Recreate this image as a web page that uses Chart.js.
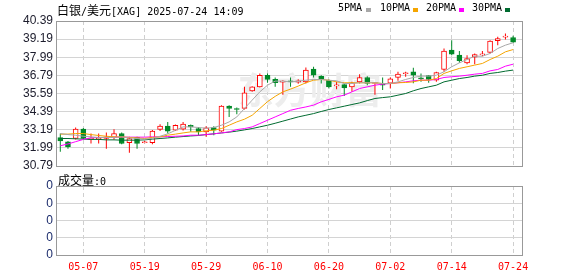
<!DOCTYPE html>
<html>
<head>
<meta charset="utf-8">
<script src="https://cdn.jsdelivr.net/npm/chart.js@4.4.0/dist/chart.umd.min.js"></script>
<style>
body{margin:0;background:#fff;width:578px;height:276px;position:relative;overflow:hidden}
canvas{position:absolute;left:0}
#main{top:0}
#vol{top:170px}
.txt{position:absolute;white-space:nowrap;color:#000;font:10px "DejaVu Sans Mono",monospace;line-height:14px}
.cjk{font:12px "Noto Sans CJK SC",sans-serif}
.sq{position:absolute;width:5px;height:4px}
</style>
</head>
<body>
<canvas id="main" width="578" height="180"></canvas>
<canvas id="vol" width="578" height="106"></canvas>
<div class="txt" style="left:57px;top:1px"><span class="cjk">白银</span>/<span class="cjk">美元</span>[XAG] 2025-07-24 14:09</div>
<div class="txt" style="left:338px;top:1px">5PMA</div><div class="sq" style="left:366px;top:8px;background:#a8a8a8"></div>
<div class="txt" style="left:380px;top:1px">10PMA</div><div class="sq" style="left:413px;top:8px;background:#f5a500"></div>
<div class="txt" style="left:426px;top:1px">20PMA</div><div class="sq" style="left:459px;top:8px;background:#ff00ff"></div>
<div class="txt" style="left:472px;top:1px">30PMA</div><div class="sq" style="left:505px;top:8px;background:#006b30"></div>
<div class="txt" style="left:58px;top:171px"><span class="cjk">成交量</span>:0</div>
<script>
// trading days shown
const dates = ['05-02','05-05','05-06','05-07','05-08','05-09','05-12','05-13','05-14','05-15','05-16',
  '05-19','05-20','05-21','05-22','05-23','05-26','05-27','05-28','05-29','05-30',
  '06-02','06-03','06-04','06-05','06-06','06-09','06-10','06-11','06-12','06-13',
  '06-16','06-17','06-18','06-19','06-20','06-23','06-24','06-25','06-26','06-27',
  '06-30','07-01','07-02','07-03','07-04','07-07','07-08','07-09','07-10','07-11',
  '07-14','07-15','07-16','07-17','07-18','07-21','07-22','07-23','07-24'];
const dateTicks = ['05-07','05-19','05-29','06-10','06-20','07-02','07-14','07-24'];
const priceTicks = [30.79,31.99,33.19,34.39,35.59,36.79,37.99,39.19,40.39];
const volTicks = [0,1,2,3,4];
const volTickLabels = ['0','0','0','0','0'];

const open = [32.67,32.39,32.61,33.23,32.55,32.60,32.61,32.68,32.94,32.33,32.68,32.33,32.33,33.21,33.43,33.16,33.23,33.49,33.27,33.05,
  33.34,33.10,34.75,34.55,34.60,35.76,36.03,36.80,36.52,36.34,36.40,36.34,36.36,37.20,36.74,36.47,36.10,36.18,36.03,36.36,
  36.65,36.25,36.20,36.27,36.65,36.90,37.03,36.60,36.78,36.47,37.18,38.46,38.13,37.62,38.00,38.15,38.31,39.08,39.32,39.30];
const close = [32.45,32.06,33.23,32.61,32.60,32.68,32.72,32.94,32.28,32.61,32.28,32.39,33.10,33.43,33.10,33.49,33.56,33.38,33.05,33.32,
  33.16,34.75,34.60,34.53,35.63,36.03,36.80,36.52,36.30,36.38,36.36,36.43,37.14,36.80,36.52,36.03,36.14,35.96,36.29,36.65,
  36.25,36.30,36.14,36.56,36.87,36.92,36.80,36.56,36.52,36.98,38.40,38.20,37.76,37.91,38.17,38.17,39.06,39.23,39.34,38.99];
const high = [32.94,32.45,33.34,33.30,32.94,32.94,33.00,33.23,33.00,32.72,32.72,32.45,33.17,33.56,33.70,33.54,33.70,33.54,33.38,33.43,
  33.43,34.82,34.82,34.66,36.03,36.07,36.91,36.91,36.65,36.47,36.65,36.54,37.31,37.36,36.80,36.52,36.36,36.25,36.36,36.87,
  36.74,36.34,36.65,36.65,37.03,37.03,37.29,36.92,36.80,37.03,38.57,39.12,38.40,38.13,38.24,38.40,39.12,39.34,39.56,39.41];
const low = [31.73,31.94,32.54,32.55,32.28,32.28,31.94,32.54,32.23,31.66,31.94,32.30,32.23,33.10,32.94,33.10,33.14,33.05,32.83,32.72,
  32.83,33.05,34.04,34.22,34.53,35.70,35.98,36.30,36.03,35.50,36.03,36.23,36.25,36.65,36.25,35.92,35.87,35.43,35.70,36.25,
  36.14,35.50,35.82,35.92,36.43,36.70,36.27,36.36,36.30,36.36,37.03,38.13,37.62,37.53,37.53,38.06,38.24,38.79,39.17,38.95];

const ma5 = [32.94,32.87,32.83,32.76,32.72,32.68,32.68,32.68,32.72,32.65,32.61,32.57,32.62,32.76,32.92,33.15,33.38,33.38,33.34,33.29,
  33.34,33.49,33.71,34.04,34.60,35.15,35.70,36.14,36.41,36.41,36.36,36.41,36.47,36.52,36.52,36.47,36.43,36.25,36.25,36.30,
  36.30,36.30,36.25,36.25,36.36,36.52,36.65,36.74,36.74,36.80,37.03,37.36,37.62,37.84,38.06,38.06,38.24,38.57,38.79,38.95];
const ma10 = [32.90,32.90,32.94,32.94,32.87,32.81,32.76,32.72,32.72,32.68,32.65,32.61,32.68,32.72,32.83,32.90,32.98,33.05,33.05,33.12,
  33.16,33.27,33.49,33.71,33.89,34.15,34.60,35.05,35.40,35.70,35.88,36.08,36.30,36.47,36.52,36.47,36.36,36.30,36.30,36.30,
  36.30,36.30,36.25,36.25,36.30,36.32,36.36,36.47,36.47,36.58,36.92,37.09,37.25,37.36,37.47,37.58,37.84,38.06,38.35,38.50];
const ma20 = [32.13,32.25,32.40,32.55,32.66,32.68,32.68,32.70,32.70,32.70,32.70,32.70,32.72,32.72,32.74,32.76,32.78,32.83,32.83,32.87,
  32.92,32.98,33.05,33.20,33.27,33.38,33.60,33.82,34.04,34.26,34.48,34.60,34.70,34.82,35.04,35.20,35.37,35.48,35.70,35.92,
  36.03,36.14,36.21,36.25,36.30,36.36,36.43,36.47,36.47,36.52,36.65,36.70,36.74,36.80,36.87,36.92,37.09,37.18,37.40,37.53];
const ma30 = [32.61,32.61,32.59,32.57,32.55,32.55,32.52,32.52,32.50,32.50,32.50,32.52,32.57,32.61,32.65,32.70,32.74,32.78,32.81,32.87,
  32.92,32.98,33.03,33.10,33.18,33.27,33.38,33.49,33.62,33.76,33.90,34.04,34.15,34.26,34.40,34.53,34.64,34.75,34.86,34.97,
  35.12,35.26,35.32,35.37,35.48,35.59,35.77,35.92,36.03,36.14,36.36,36.47,36.58,36.65,36.74,36.80,36.92,36.98,37.07,37.14];
const volume = dates.map(() => 0);

const UP = '#ff0000', DOWN = '#008a28';
const isUp = open.map((o, i) => close[i] >= o);
const candleColor = isUp.map(u => u ? UP : DOWN);
const xMin = -0.56, xMax = 60.16;

const frame = {
  id: 'frame',
  beforeDatasetsDraw(chart, args, opts) {
    if (!opts.mark) return;
    const a = chart.chartArea, c = chart.ctx;
    c.save();
    c.fillStyle = '#ededed';
    c.font = 'bold 36px "Noto Sans CJK SC"';
    c.textBaseline = 'middle';
    c.fillText(opts.mark, a.left + (a.right - a.left) * 0.39, a.top + (a.bottom - a.top) * 0.48);
    c.restore();
  },
  afterDraw(chart) {
    const a = chart.chartArea, c = chart.ctx;
    c.save();
    c.strokeStyle = '#999';
    c.lineWidth = 1;
    c.strokeRect(Math.round(a.left) + 0.5, Math.round(a.top) + 0.5,
      Math.round(a.right - a.left), Math.round(a.bottom - a.top));
    c.restore();
  }
};

const xScale = (showLabels, h) => ({
  type: 'linear', min: xMin, max: xMax, offset: false,
  afterBuildTicks: s => { s.ticks = dateTicks.map(d => ({ value: dates.indexOf(d) })); },
  afterFit: s => { s.height = h; },
  grid: { color: '#cfcfcf', drawTicks: false, offset: false },
  border: { display: false, dash: [4, 3] },
  ticks: {
    display: showLabels, padding: 6, color: '#ff0000', autoSkip: false, maxRotation: 0,
    font: { family: 'DejaVu Sans Mono', size: 10 },
    callback: v => dates[v]
  }
});
const yFont = { family: 'Liberation Sans', size: 12 };

const lineSet = (label, arr, color) => ({
  type: 'line', label, data: arr.map((v, i) => ({ x: i, y: v })),
  borderColor: color, borderWidth: 1, pointRadius: 0, tension: 0, order: 1
});

new Chart(document.getElementById('main'), {
  type: 'bar',
  data: {
    datasets: [
      { label: 'wick', data: dates.map((d, i) => ({ x: i, y: [low[i], high[i]] })),
        backgroundColor: candleColor, barThickness: 1, inflateAmount: 0, grouped: false, order: 3 },
      { label: 'body', data: dates.map((d, i) => ({ x: i, y: [open[i], close[i]] })),
        backgroundColor: isUp.map(u => u ? '#ffffff' : DOWN), borderColor: candleColor,
        borderWidth: 1, borderSkipped: false, minBarLength: 1, barThickness: 5, grouped: false, order: 2 },
      lineSet('5PMA', ma5, '#a8a8a8'),
      lineSet('10PMA', ma10, '#f5a500'),
      lineSet('20PMA', ma20, '#ff00ff'),
      lineSet('30PMA', ma30, '#006b30')
    ]
  },
  options: {
    responsive: false, animation: false, devicePixelRatio: 1,
    layout: { padding: { top: 21, right: 56, bottom: 14, left: 0 } },
    plugins: { legend: { display: false }, tooltip: { enabled: false }, frame: { mark: '东方财富' } },
    scales: {
      x: xScale(false, 0),
      y: {
        min: 30.79, max: 40.39,
        afterBuildTicks: s => { s.ticks = priceTicks.map(v => ({ value: v })); },
        afterFit: s => { s.width = 56; },
        grid: { color: '#d4d4d4', drawTicks: false },
        border: { display: false },
        ticks: { padding: 3, color: '#1c1c2c', font: yFont, autoSkip: false, callback: v => v.toFixed(2) }
      }
    }
  },
  plugins: [frame]
});

new Chart(document.getElementById('vol'), {
  type: 'bar',
  data: {
    datasets: [{ label: '成交量', data: volume.map((v, i) => ({ x: i, y: v })),
      backgroundColor: DOWN, barThickness: 5, inflateAmount: 0 }]
  },
  options: {
    responsive: false, animation: false, devicePixelRatio: 1,
    layout: { padding: { top: 16, right: 56, bottom: 0, left: 0 } },
    plugins: { legend: { display: false }, tooltip: { enabled: false } },
    scales: {
      x: xScale(true, 21),
      y: {
        min: 0, max: 4,
        afterBuildTicks: s => { s.ticks = volTicks.map(v => ({ value: v })); },
        afterFit: s => { s.width = 56; },
        grid: { color: '#d4d4d4', drawTicks: false },
        border: { display: false },
        ticks: { padding: 3, color: '#1c2c6c', font: yFont, autoSkip: false, callback: (v, i) => volTickLabels[i] }
      }
    }
  },
  plugins: [frame]
});
</script>
</body>
</html>
